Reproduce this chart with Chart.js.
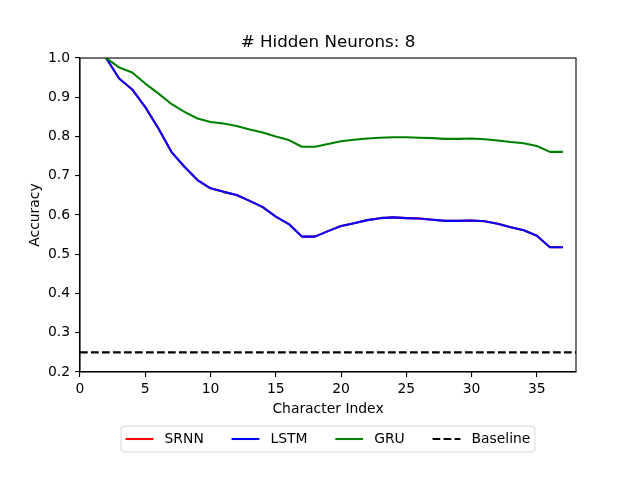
<!DOCTYPE html>
<html>
<head>
<meta charset="utf-8">
<script src="https://cdn.jsdelivr.net/npm/chart.js@4/dist/chart.umd.min.js"></script>
<style>
    body { margin: 0; background: #fff; }
    canvas { display: block; }
</style>
</head>
<body>
<canvas id="accChart" width="640" height="480"></canvas>
<script>
        // Data
        const charIndex = [2, 3, 4, 5, 6, 7, 8, 9, 10, 11, 12, 13, 14, 15, 16, 17, 18, 19, 20,
            21, 22, 23, 24, 25, 26, 27, 28, 29, 30, 31, 32, 33, 34, 35, 36, 37];
        const srnnAcc = [1.0, 0.948, 0.920, 0.875, 0.821, 0.761, 0.723, 0.689, 0.668, 0.659, 0.651, 0.636,
            0.620, 0.596, 0.577, 0.545, 0.545, 0.559, 0.572, 0.579, 0.587, 0.592, 0.594, 0.592,
            0.591, 0.588, 0.585, 0.585, 0.586, 0.584, 0.578, 0.569, 0.561, 0.547, 0.518, 0.518];
        const lstmAcc = [1.0, 0.948, 0.920, 0.875, 0.821, 0.761, 0.723, 0.689, 0.668, 0.659, 0.651, 0.636,
            0.620, 0.596, 0.577, 0.545, 0.545, 0.559, 0.572, 0.579, 0.587, 0.592, 0.594, 0.592,
            0.591, 0.588, 0.585, 0.585, 0.586, 0.584, 0.578, 0.569, 0.561, 0.547, 0.518, 0.518];
        const gruAcc = [1.0, 0.976, 0.963, 0.935, 0.910, 0.883, 0.863, 0.846, 0.837, 0.833, 0.827, 0.818,
            0.810, 0.800, 0.791, 0.774, 0.774, 0.781, 0.788, 0.792, 0.795, 0.797, 0.798, 0.798,
            0.797, 0.796, 0.794, 0.794, 0.795, 0.793, 0.790, 0.786, 0.783, 0.776, 0.761, 0.761];
        const baselineAcc = 0.25;
        const xRange = [0, 38];
        const yRange = [0.2, 1.0];
        const seriesNames = ['SRNN', 'LSTM', 'GRU', 'Baseline'];

        const FONT = 'DejaVu Sans';
        const LW = 2.08;

        function toPoints(ys) {
            return charIndex.map((x, i) => ({ x: x, y: ys[i] }));
        }

        // matplotlib style box around the axes
        const frame = {
            id: 'frame',
            afterDatasetsDraw(chart) {
                const a = chart.chartArea;
                const ctx = chart.ctx;
                ctx.save();
                ctx.strokeStyle = '#000';
                ctx.lineWidth = 1.1;
                ctx.strokeRect(a.left, a.top, a.right - a.left, a.bottom - a.top);
                ctx.restore();
            }
        };

        // legend under the axes, in a rounded box
        const boxLegend = {
            id: 'boxLegend',
            afterDraw(chart) {
                const ctx = chart.ctx;
                const a = chart.chartArea;
                const sets = chart.data.datasets;
                const handle = 27.8, textPad = 11.1, colGap = 27.8, pad = 4.5;
                ctx.save();
                ctx.font = '13.9px "' + FONT + '"';
                const widths = sets.map(d => ctx.measureText(d.label).width);
                let total = pad * 2 + colGap * (sets.length - 1);
                widths.forEach(w => total += handle + textPad + w);
                const cx = (a.left + a.right) / 2;
                const left = cx - total / 2, top = 426, h = 26;
                ctx.beginPath();
                ctx.roundRect(left, top, total, h, 3);
                ctx.fillStyle = 'rgba(255,255,255,0.8)';
                ctx.fill();
                ctx.strokeStyle = '#d6d6d6';
                ctx.lineWidth = 1;
                ctx.stroke();
                const midY = top + h / 2;
                let x = left + pad;
                sets.forEach((d, i) => {
                    ctx.beginPath();
                    ctx.setLineDash(d.borderDash || []);
                    ctx.strokeStyle = d.borderColor;
                    ctx.lineWidth = LW;
                    ctx.moveTo(x, midY);
                    ctx.lineTo(x + handle, midY);
                    ctx.stroke();
                    ctx.setLineDash([]);
                    ctx.fillStyle = '#000';
                    ctx.textBaseline = 'middle';
                    ctx.fillText(d.label, x + handle + textPad, midY);
                    x += handle + textPad + widths[i] + colGap;
                });
                ctx.restore();
            }
        };

        const lineStyle = { pointRadius: 0, borderWidth: LW, tension: 0, fill: false, borderJoinStyle: 'round' };

        new Chart(document.getElementById('accChart'), {
            type: 'line',
            data: {
                datasets: [
                    { label: seriesNames[0], data: toPoints(srnnAcc), borderColor: '#ff0000', order: 4, ...lineStyle },
                    { label: seriesNames[1], data: toPoints(lstmAcc), borderColor: '#0000ff', order: 3, ...lineStyle },
                    { label: seriesNames[2], data: toPoints(gruAcc), borderColor: '#008000', order: 2, ...lineStyle },
                    {
                        label: seriesNames[3],
                        data: [{ x: xRange[0], y: baselineAcc }, { x: xRange[1], y: baselineAcc }],
                        borderColor: '#000000', borderDash: [7.7, 3.3], order: 1, ...lineStyle
                    }
                ]
            },
            options: {
                responsive: false,
                animation: false,
                devicePixelRatio: 1,
                layout: { padding: { left: 0, right: 64, top: 0, bottom: 60 } },
                plugins: {
                    legend: { display: false },
                    tooltip: { enabled: false },
                    title: {
                        display: true,
                        text: '# Hidden Neurons: 8',
                        fullSize: false,
                        color: '#000',
                        font: { family: FONT, size: 16.7, weight: 'normal' },
                        padding: { top: 33, bottom: 5 }
                    }
                },
                scales: {
                    x: {
                        type: 'linear',
                        min: xRange[0],
                        max: xRange[1],
                        afterFit(scale) { scale.height = 48; },
                        grid: { drawOnChartArea: false, drawTicks: true, tickLength: 5, color: '#000', lineWidth: 1.1 },
                        border: { display: true, color: '#000', width: 1.1 },
                        ticks: {
                            stepSize: 5, includeBounds: false, padding: 4, color: '#000', maxRotation: 0,
                            font: { family: FONT, size: 13.9 }
                        },
                        title: {
                            display: true, text: 'Character Index', color: '#000',
                            font: { family: FONT, size: 13.9 }, padding: { top: 0, bottom: 2 }
                        }
                    },
                    y: {
                        min: yRange[0],
                        max: yRange[1],
                        afterFit(scale) { scale.width = 80; },
                        grid: { drawOnChartArea: false, drawTicks: true, tickLength: 5, color: '#000', lineWidth: 1.1 },
                        border: { display: true, color: '#000', width: 1.1 },
                        ticks: {
                            stepSize: 0.1, padding: 5, color: '#000',
                            font: { family: FONT, size: 13.9 },
                            callback: v => v.toFixed(1)
                        },
                        title: {
                            display: true, text: 'Accuracy', color: '#000',
                            font: { family: FONT, size: 13.9 }, padding: { top: 27, bottom: 0 }
                        }
                    }
                }
            },
            plugins: [frame, boxLegend]
        });
</script>
</body>
</html>
